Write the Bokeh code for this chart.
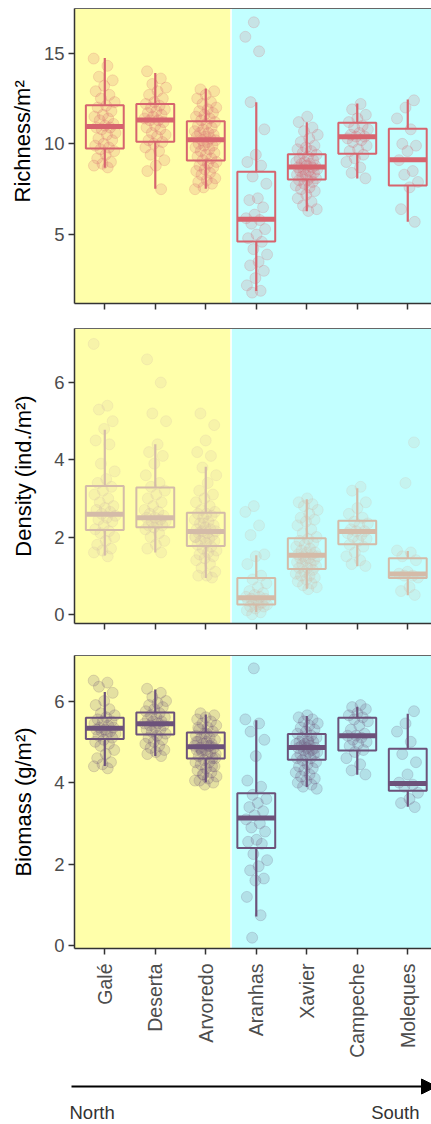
import math

from bokeh.embed import file_html
from bokeh.layouts import column
from bokeh.models import (Arrow, BoxAnnotation, ColumnDataSource, FixedTicker,
                          Label, LinearAxis, NormalHead, Range1d, Span, Title)
from bokeh.plotting import figure
from bokeh.resources import INLINE

# ---------------------------------------------------------------- data
sites = ["Galé", "Deserta", "Arvoredo", "Aranhas", "Xavier", "Campeche", "Moleques"]

# Richness per m2 (one list of samples per site)
richness = [
    [14.7, 14.3, 13.7, 13.5, 13.2, 12.9, 12.7, 12.5, 12.3, 12.1, 12.0, 11.8, 11.6, 11.5, 11.4, 11.3, 11.1, 11.0,
     10.9, 10.9, 10.8, 10.6, 10.5, 10.3, 10.2, 10.0, 9.9, 9.8, 9.7, 9.6, 9.4, 9.2, 9.0, 8.9, 8.8, 8.7],
    [14.0, 13.6, 13.3, 13.1, 12.9, 12.7, 12.5, 12.3, 12.2, 12.1, 12.0, 11.9, 11.8, 11.7, 11.6, 11.5, 11.4, 11.3,
     11.3, 11.2, 11.0, 10.9, 10.8, 10.6, 10.5, 10.4, 10.2, 10.1, 10.0, 9.8, 9.6, 9.4, 9.1, 8.8, 8.5, 7.5],
    [13.0, 12.9, 12.7, 12.5, 12.3, 12.2, 12.0, 11.9, 11.8, 11.7, 11.6, 11.5, 11.4, 11.3, 11.2, 11.1, 11.0, 10.9,
     10.8, 10.7, 10.6, 10.6, 10.5, 10.4, 10.4, 10.3, 10.2, 10.2, 10.1, 10.0, 9.9, 9.9, 9.8, 9.7, 9.6, 9.5, 9.4,
     9.3, 9.2, 9.1, 9.0, 8.9, 8.8, 8.7, 8.6, 8.5, 8.4, 8.3, 8.1, 8.0, 7.9, 7.8, 7.6, 7.5],
    [16.7, 15.9, 15.1, 12.3, 10.8, 9.4, 9.0, 8.8, 8.2, 7.8, 7.0, 6.9, 6.5, 6.1, 5.9, 5.8, 5.6, 5.3, 5.0, 4.8,
     4.6, 4.2, 3.9, 3.5, 3.3, 3.0, 2.6, 2.2, 1.9, 1.8],
    [11.5, 11.2, 10.9, 10.7, 10.5, 10.3, 10.1, 9.9, 9.8, 9.7, 9.6, 9.5, 9.4, 9.3, 9.2, 9.1, 9.0, 9.0, 8.9, 8.9,
     8.8, 8.8, 8.7, 8.7, 8.6, 8.6, 8.5, 8.5, 8.4, 8.3, 8.3, 8.2, 8.2, 8.1, 8.0, 8.0, 7.9, 7.8, 7.7, 7.6, 7.5,
     7.4, 7.2, 7.0, 6.8, 6.6, 6.4, 6.3],
    [12.2, 11.9, 11.6, 11.4, 11.2, 11.0, 10.9, 10.8, 10.6, 10.5, 10.4, 10.4, 10.3, 10.2, 10.1, 9.9, 9.7, 9.6,
     9.4, 9.2, 9.0, 8.7, 8.4, 8.1],
    [12.4, 12.0, 11.4, 10.8, 10.0, 9.9, 9.6, 9.1, 8.5, 8.3, 7.9, 7.6, 6.4, 5.7],
]
richness_q1 = [9.74, 10.11, 9.08, 4.62, 8.04, 9.45, 7.71]
richness_med = [10.95, 11.32, 10.22, 5.85, 8.72, 10.39, 9.12]
richness_q3 = [12.13, 12.20, 11.25, 8.46, 9.43, 11.16, 10.83]
richness_lo = [8.68, 7.52, 7.52, 1.89, 6.29, 8.09, 5.71]
richness_hi = [14.73, 13.90, 13.05, 12.29, 11.19, 12.22, 12.44]

# Density (ind./m2)
density = [
    [7.0, 5.4, 5.3, 5.0, 4.8, 4.5, 4.4, 3.9, 3.7, 3.5, 3.4, 3.3, 3.2, 3.1, 3.0, 2.9, 2.8, 2.75, 2.7, 2.65, 2.6,
     2.55, 2.5, 2.45, 2.4, 2.3, 2.2, 2.15, 2.1, 2.0, 1.9, 1.8, 1.7, 1.65, 1.6, 1.5],
    [6.6, 6.0, 5.2, 5.0, 4.4, 4.2, 4.1, 3.9, 3.6, 3.4, 3.3, 3.2, 3.1, 3.0, 2.9, 2.8, 2.7, 2.65, 2.6, 2.55, 2.5,
     2.5, 2.45, 2.4, 2.4, 2.35, 2.3, 2.3, 2.25, 2.2, 2.1, 2.0, 1.9, 1.8, 1.7, 1.6],
    [5.2, 4.9, 4.5, 4.2, 4.1, 3.8, 3.6, 3.4, 3.2, 3.1, 3.0, 2.9, 2.8, 2.7, 2.65, 2.6, 2.6, 2.55, 2.5, 2.45,
     2.4, 2.35, 2.3, 2.25, 2.2, 2.2, 2.15, 2.15, 2.1, 2.1, 2.05, 2.0, 2.0, 1.95, 1.9, 1.9, 1.85, 1.8, 1.75,
     1.7, 1.65, 1.6, 1.55, 1.5, 1.45, 1.4, 1.3, 1.2, 1.1, 1.0, 1.0, 0.95, 2.35, 2.0],
    [2.8, 2.65, 2.3, 2.05, 1.55, 1.5, 1.3, 1.0, 0.9, 0.8, 0.7, 0.6, 0.55, 0.5, 0.45, 0.45, 0.4, 0.4, 0.35,
     0.35, 0.3, 0.3, 0.25, 0.25, 0.2, 0.2, 0.15, 0.1, 0.05, 0.0],
    [3.0, 2.9, 2.85, 2.8, 2.7, 2.6, 2.5, 2.45, 2.4, 2.3, 2.2, 2.1, 2.0, 1.95, 1.9, 1.85, 1.8, 1.75, 1.7, 1.65,
     1.6, 1.6, 1.55, 1.55, 1.5, 1.5, 1.45, 1.45, 1.4, 1.4, 1.35, 1.3, 1.3, 1.25, 1.2, 1.2, 1.15, 1.1, 1.05,
     1.0, 1.0, 0.95, 0.9, 0.85, 0.8, 0.75, 0.7, 0.65],
    [3.3, 3.2, 2.9, 2.75, 2.6, 2.5, 2.4, 2.35, 2.3, 2.2, 2.15, 2.15, 2.1, 2.05, 2.0, 1.95, 1.9, 1.8, 1.75,
     1.6, 1.5, 1.4, 1.3, 1.25],
    [4.45, 3.4, 1.65, 1.6, 1.5, 1.4, 1.1, 1.05, 1.0, 1.0, 0.95, 0.7, 0.6, 0.5],
]
density_q1 = [2.18, 2.25, 1.77, 0.25, 1.17, 1.81, 0.94]
density_med = [2.59, 2.50, 2.14, 0.43, 1.53, 2.14, 1.04]
density_q3 = [3.32, 3.28, 2.63, 0.94, 1.97, 2.42, 1.45]
density_lo = [1.52, 1.60, 0.94, 0.06, 0.66, 1.24, 0.49]
density_hi = [4.78, 4.40, 3.82, 1.53, 2.98, 3.26, 1.64]

# Biomass (g/m2)
biomass = [
    [6.5, 6.45, 6.35, 6.2, 6.0, 5.9, 5.8, 5.7, 5.65, 5.6, 5.55, 5.5, 5.5, 5.45, 5.4, 5.35, 5.35, 5.3, 5.3,
     5.25, 5.25, 5.2, 5.2, 5.15, 5.1, 5.05, 5.0, 4.95, 4.9, 4.8, 4.7, 4.6, 4.5, 4.45, 4.4, 4.35],
    [6.3, 6.2, 6.1, 6.0, 5.95, 5.9, 5.85, 5.8, 5.75, 5.7, 5.65, 5.6, 5.6, 5.55, 5.5, 5.5, 5.45, 5.45, 5.4,
     5.4, 5.35, 5.3, 5.3, 5.25, 5.2, 5.15, 5.1, 5.05, 5.0, 4.95, 4.9, 4.85, 4.8, 4.75, 4.7, 4.65],
    [5.7, 5.65, 5.6, 5.55, 5.5, 5.45, 5.4, 5.35, 5.3, 5.25, 5.2, 5.15, 5.1, 5.1, 5.05, 5.0, 5.0, 4.95, 4.95,
     4.9, 4.9, 4.85, 4.85, 4.8, 4.8, 4.75, 4.75, 4.7, 4.7, 4.65, 4.6, 4.55, 4.5, 4.5, 4.45, 4.4, 4.35, 4.3,
     4.25, 4.2, 4.15, 4.1, 4.05, 4.0, 3.95, 5.0, 4.9, 4.8, 4.6, 5.2, 5.35, 4.4, 4.2, 4.05],
    [6.8, 5.55, 5.45, 5.25, 5.05, 4.65, 4.05, 3.9, 3.7, 3.6, 3.5, 3.4, 3.3, 3.2, 3.1, 3.0, 2.9, 2.8, 2.6,
     2.55, 2.5, 2.25, 2.1, 1.95, 1.85, 1.65, 1.6, 1.2, 0.75, 0.2],
    [5.65, 5.6, 5.55, 5.5, 5.45, 5.4, 5.35, 5.3, 5.25, 5.2, 5.15, 5.1, 5.1, 5.05, 5.0, 5.0, 4.95, 4.95, 4.9,
     4.9, 4.85, 4.85, 4.85, 4.8, 4.8, 4.75, 4.75, 4.7, 4.7, 4.65, 4.6, 4.6, 4.55, 4.5, 4.45, 4.4, 4.35, 4.3,
     4.25, 4.2, 4.15, 4.1, 4.05, 4.0, 3.95, 3.9, 3.85, 5.0],
    [5.9, 5.85, 5.8, 5.7, 5.65, 5.6, 5.55, 5.5, 5.4, 5.3, 5.2, 5.15, 5.15, 5.1, 5.05, 5.0, 4.95, 4.9, 4.8,
     4.75, 4.6, 4.45, 4.3, 4.2],
    [5.75, 5.45, 5.25, 5.0, 4.7, 4.5, 4.2, 4.0, 3.95, 3.9, 3.75, 3.6, 3.5, 3.4],
]
biomass_q1 = [5.07, 5.18, 4.59, 2.40, 4.56, 4.79, 3.80]
biomass_med = [5.33, 5.44, 4.88, 3.13, 4.86, 5.15, 3.98]
biomass_q3 = [5.59, 5.72, 5.23, 3.74, 5.19, 5.59, 4.83]
biomass_lo = [4.41, 4.65, 4.00, 0.72, 3.89, 4.19, 3.41]
biomass_hi = [6.22, 6.28, 5.67, 5.53, 5.63, 5.86, 5.69]

# ---------------------------------------------------------------- style
FONT = "Liberation Sans"
NORTH_BG = "#FFFFAA"
SOUTH_BG = "#C2FFFF"
AXIS_COL = "#333333"
TICK_TEXT = "#4D4D4D"
X_START, X_END = 0.4, 7.47
BOX_HALF = 0.375
JITTER = 0.22


def spread(n, phase):
    """Deterministic horizontal spread for the sample dots."""
    return [((i * 0.6180339887 + phase) % 1.0 - 0.5) * 2 * JITTER for i in range(n)]


def panel(samples, q1, med, q3, lo, hi, color, y_lim, y_ticks, height, top, bottom,
          show_sites):
    p = figure(width=431, height=height, x_range=Range1d(X_START, X_END),
               y_range=Range1d(*y_lim), output_backend="svg", toolbar_location=None,
               min_border_left=74, min_border_right=0, min_border_top=top,
               min_border_bottom=bottom)
    p.grid.visible = False
    p.outline_line_color = None
    p.background_fill_color = "white"
    p.border_fill_color = "white"

    # north / south shading with a thin white divider
    p.add_layout(BoxAnnotation(right=3.5, fill_color=NORTH_BG, fill_alpha=1.0,
                               line_color=None, level="underlay"))
    p.add_layout(BoxAnnotation(left=3.5, fill_color=SOUTH_BG, fill_alpha=1.0,
                               line_color=None, level="underlay"))
    p.add_layout(Span(location=3.5, dimension="height", line_color="white",
                      line_width=1.6, level="underlay"))

    # jittered samples
    xs, ys = [], []
    for k, vals in enumerate(samples):
        offs = spread(len(vals), 0.13 * k)
        xs.extend(k + 1 + o for o in offs)
        ys.extend(vals)
    p.scatter(x="x", y="y", source=ColumnDataSource(dict(x=xs, y=ys)), size=11,
              fill_color=color, line_color=color, fill_alpha=0.18, line_alpha=0.2)

    # boxplots
    pos = list(range(1, len(sites) + 1))
    box = ColumnDataSource(dict(
        x=pos, left=[x - BOX_HALF for x in pos], right=[x + BOX_HALF for x in pos],
        q1=q1, med=med, q3=q3, lo=lo, hi=hi))
    p.segment(x0="x", y0="q3", x1="x", y1="hi", source=box, line_color=color, line_width=2.2)
    p.segment(x0="x", y0="q1", x1="x", y1="lo", source=box, line_color=color, line_width=2.2)
    p.quad(left="left", right="right", bottom="q1", top="q3", source=box,
           fill_color=None, line_color=color, line_width=2)
    p.segment(x0="left", y0="med", x1="right", y1="med", source=box,
              line_color=color, line_width=5, line_cap="butt")

    # y axis
    ya = p.yaxis[0]
    ya.ticker = FixedTicker(ticks=y_ticks)
    ya.axis_line_color = AXIS_COL
    ya.axis_line_width = 1.5
    ya.major_tick_line_color = AXIS_COL
    ya.major_tick_line_width = 1.5
    ya.major_tick_out = 6
    ya.major_tick_in = 0
    ya.minor_tick_out = 0
    ya.minor_tick_in = 0
    ya.major_label_standoff = 4
    ya.major_label_text_font = FONT
    ya.major_label_text_font_size = "18.5px"
    ya.major_label_text_color = TICK_TEXT

    # x axis
    xa = p.xaxis[0]
    xa.ticker = FixedTicker(ticks=pos)
    xa.axis_line_color = AXIS_COL
    xa.axis_line_width = 1.5
    xa.major_tick_line_color = AXIS_COL
    xa.major_tick_line_width = 1.5
    xa.major_tick_out = 6
    xa.major_tick_in = 0
    xa.minor_tick_out = 0
    xa.minor_tick_in = 0
    if show_sites:
        xa.major_label_overrides = {i + 1: s for i, s in enumerate(sites)}
        xa.major_label_orientation = math.pi / 2
        xa.major_label_standoff = 9
        xa.major_label_text_font = FONT
        xa.major_label_text_font_size = "19.5px"
        xa.major_label_text_color = TICK_TEXT
    else:
        # ticks only: labels are not painted
        xa.major_label_standoff = 0
        xa.major_label_text_font_size = "1px"
        xa.major_label_text_color = None

    # thin top border of the panel
    p.add_layout(LinearAxis(ticker=FixedTicker(ticks=[]), axis_line_color="#666666",
                            axis_line_width=1.2, major_tick_out=0, major_tick_in=0,
                            minor_tick_out=0, minor_tick_in=0, major_label_standoff=0,
                            major_label_text_font_size="1px",
                            major_label_text_color=None), "above")
    return p


def axis_title(p, text, standoff):
    ya = p.yaxis[0]
    ya.axis_label = text
    ya.axis_label_standoff = standoff
    ya.axis_label_text_font = FONT
    ya.axis_label_text_font_size = "22px"
    ya.axis_label_text_font_style = "normal"
    ya.axis_label_text_color = "black"


p1 = panel(richness, richness_q1, richness_med, richness_q3, richness_lo, richness_hi,
           "#D6646E", (1.2, 17.46), [5, 10, 15], 320, 8, 17, False)
p2 = panel(density, density_q1, density_med, density_q3, density_lo, density_hi,
           "#D4BBA8", (-0.24, 7.40), [0, 2, 4, 6], 320, 8, 17, False)
p3 = panel(biomass, biomass_q1, biomass_med, biomass_q3, biomass_lo, biomass_hi,
           "#6C527A", (-0.065, 7.115), [0, 2, 4, 6], 420, 15, 111, True)

# the richness title sits a little above the panel centre
p1.add_layout(Title(text="Richness/m²", align="left", offset=101, standoff=11,
                    text_font=FONT, text_font_size="22px", text_font_style="normal",
                    text_color="black"), "left")
axis_title(p2, "Density (ind./m²)", 15)
axis_title(p3, "Biomass (g/m²)", 15)

# north -> south direction arrow, in page pixel coordinates
p4 = figure(width=431, height=64, y_range=Range1d(64, 0),
            x_axis_type=None, y_axis_type=None, output_backend="svg", toolbar_location=None,
            min_border=0)
if "frame_align" in p4.properties():
    p4.frame_align = False
    p4.x_range = Range1d(0, 431)
    arrow_x0, north_x = 71, 69
else:
    p4.x_range = Range1d(74, 431)
    arrow_x0, north_x = 74, 74
p4.outline_line_color = None
p4.grid.visible = False
p4.add_layout(Arrow(x_start=arrow_x0, y_start=26, x_end=436, y_end=26, line_width=2.2,
                    line_color="black",
                    end=NormalHead(size=15, fill_color="black", line_color="black")))
p4.add_layout(Label(x=north_x, y=52, text="North", text_align="left", text_baseline="alphabetic",
                    text_font=FONT, text_font_size="18.5px", text_color="#333333"))
p4.add_layout(Label(x=419, y=52, text="South", text_align="right", text_baseline="alphabetic",
                    text_font=FONT, text_font_size="18.5px", text_color="#333333"))

page = column(p1, p2, p3, p4, spacing=0)
open("out.html", "w").write(file_html(page, INLINE))
